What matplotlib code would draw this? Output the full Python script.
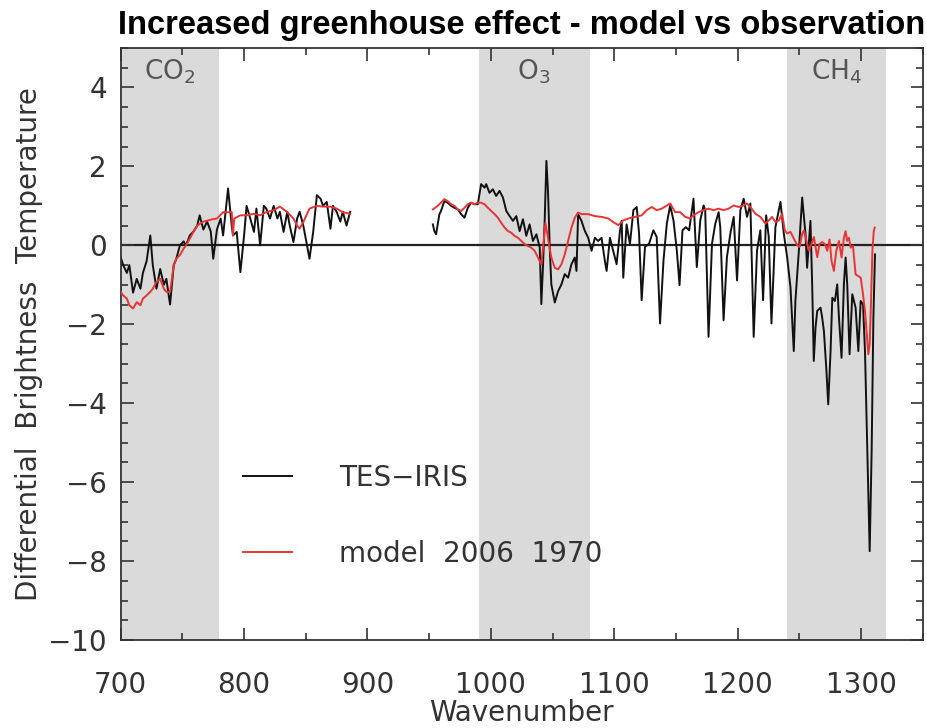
import matplotlib
matplotlib.use("Agg")
import matplotlib.pyplot as plt
from matplotlib.ticker import MultipleLocator

# TES-IRIS observed difference, two spectral windows (gap ~890-950)
tes_wn_a = [700, 702, 705, 707, 710, 713, 716, 718, 721, 724, 726, 729, 732, 735, 737, 740,
            743, 745, 748, 751, 753, 756, 759, 762, 764, 767, 770, 773, 775, 778, 781, 783,
            787, 790, 791, 794, 797, 800, 802, 805, 808, 810, 813, 816, 818, 821, 824, 827,
            829, 832, 835, 837, 840, 843, 845, 848, 851, 853, 856, 859, 862, 864, 867, 870,
            872, 875, 878, 880, 883, 886]
tes_bt_a = [-0.3, -0.5, -0.7, -0.5, -1.2, -0.85, -1.1, -0.7, -0.4, 0.25, -0.5, -1.1, -0.6, -1.0, -0.85, -1.5,
            -0.5, -0.35, 0.0, 0.1, 0.0, 0.25, 0.35, 0.5, 0.76, 0.4, 0.6, 0.35, -0.34, 0.4, 0.68, 0.25,
            1.44, 0.5, 0.25, 0.34, -0.68, 0.25, 1.0, 0.68, 0.34, 0.93, 0.0, 1.0, 0.93, 0.68, 1.0, 0.68,
            0.85, 0.34, 0.85, 0.5, 0.08, 0.68, 0.85, 0.5, 0.0, -0.34, 0.34, 1.27, 1.18, 1.0, 1.1, 0.42,
            1.0, 0.85, 0.6, 0.85, 0.5, 0.85]

tes_wn_b = [953.0, 954.2, 955.6, 956.9, 958.3, 959.6, 962.3, 965.0, 967.8, 970.5, 973.2, 975.9,
            978.6, 981.3, 984.0, 986.7, 989.4, 992.1, 994.9, 996.2, 998.9, 1001.6, 1004.3, 1007.0,
            1009.8, 1012.5, 1015.2, 1017.9, 1020.6, 1023.3, 1026.0, 1028.7, 1031.4, 1034.1, 1036.9,
            1039.6, 1040.9, 1042.3, 1043.6, 1045.0, 1046.3, 1047.7, 1049.0, 1051.8, 1054.5, 1057.2,
            1059.9, 1062.6, 1065.3, 1068.0, 1069.4, 1070.7, 1073.4, 1076.2, 1078.9, 1081.6, 1084.3,
            1087.0, 1089.7, 1092.4, 1093.8, 1096.5, 1099.2, 1101.9, 1104.6, 1106.0, 1107.3, 1110.0,
            1112.7, 1115.5, 1118.2, 1120.1, 1122.2, 1124.9, 1128.2, 1131.7, 1134.4, 1137.1, 1139.9,
            1142.6, 1145.3, 1148.0, 1150.7, 1152.9, 1155.3, 1158.0, 1160.7, 1164.2, 1166.9, 1169.7,
            1172.4, 1173.7, 1176.4, 1179.2, 1181.9, 1184.6, 1185.9, 1188.6, 1191.3, 1194.1, 1196.8,
            1199.5, 1202.2, 1204.9, 1207.6, 1210.3, 1213.0, 1215.7, 1218.4, 1220.6, 1223.1, 1225.2,
            1227.4, 1230.6, 1234.7, 1237.4, 1240.1, 1242.8, 1245.5, 1246.8, 1249.6, 1252.3, 1255.0,
            1256.3, 1259.0, 1260.4, 1261.7, 1263.1, 1264.5, 1267.2, 1268.5, 1269.9, 1271.8, 1273.4,
            1275.3, 1276.7, 1278.8, 1280.7, 1282.1, 1284.2, 1286.1, 1287.5, 1288.8, 1290.7, 1292.9,
            1295.6, 1297.8, 1299.7, 1301.6, 1303.2, 1305.1, 1307.0, 1308.6, 1310.0, 1311.3]
tes_bt_b = [0.53, 0.36, 0.28, 0.53, 0.79, 0.87, 1.12, 1.08, 1.0, 0.95, 0.91, 0.79,
            0.70, 0.95, 1.08, 1.04, 1.04, 1.55, 1.46, 1.55, 1.33, 1.42, 1.25, 1.38,
            1.21, 0.87, 0.74, 0.62, 0.74, 0.36, 0.66, 0.24, 0.53, 0.11, 0.28,
            -0.06, -1.49, -0.48, 0.62, 2.14, 1.38, -0.06, -0.99, -1.45, -1.16, -0.99,
            -0.73, -0.82, -0.48, -0.31, -0.65, 0.79, 0.62, 0.36, 0.19, -0.14, 0.19,
            0.11, 0.19, -0.40, -0.65, 0.19, -0.14, -0.48, 0.36, 0.62, -0.82, 0.53,
            0.03, 0.89, 0.97, 0.30, -1.39, -0.04, 0.04, 0.38, 0.21, -1.98, -0.38,
            0.55, 1.01, 0.63, -0.13, -1.01, 0.38, 0.46, 0.38, 1.18, -0.55, 0.63,
            1.01, 0.89, -2.32, 0.04, 0.55, 0.84, 0.46, -1.90, -0.30, 0.30, 0.72,
            -0.89, 0.89, 1.18, 0.72, 1.06, -2.32, -0.13, 0.38, -1.39, 0.76, 0.21,
            -1.98, 0.46, 1.10, 0.30, -0.30, -1.06, -2.68, -1.41, -0.14, 1.21, 0.28,
            -0.57, 0.62, -0.99, -2.93, -2.09, -1.66, -1.58, -1.83, -2.17, -3.10, -4.03,
            -2.68, -1.33, -1.41, -0.99, -1.83, -2.85, -0.99, -0.31, -0.99, -2.76, -1.24,
            -1.58, -2.68, -1.41, -1.50, -2.68, -5.2, -7.75, -5.2, -1.84, -0.23]

# model 2006 minus 1970
model_wn_a = [700, 702, 705, 707, 710, 713, 716, 718, 721, 724, 726, 729, 732, 735, 737, 740,
              743, 745, 748, 751, 753, 756, 759, 762, 767, 773, 778, 783, 787, 790, 791, 792,
              797, 802, 808, 813, 818, 824, 829, 835, 840, 843, 845, 848, 853, 859, 864, 870,
              875, 880, 886]
model_bt_a = [-1.18, -1.27, -1.35, -1.52, -1.6, -1.44, -1.52, -1.35, -1.27, -1.18, -1.1, -0.93,
              -0.85, -1.1, -1.18, -1.18, -0.5, -0.34, -0.25, -0.08, 0.0, 0.17, 0.34, 0.5, 0.6,
              0.65, 0.68, 0.84, 0.84, 0.84, 0.25, 0.68, 0.76, 0.76, 0.8, 0.76, 0.84, 0.89, 0.98,
              0.84, 0.68, 0.5, 0.42, 0.59, 0.93, 1.0, 0.98, 0.98, 0.93, 0.84, 0.8]

model_wn_b = [953.0, 956.9, 959.6, 962.3, 965.0, 967.8, 970.5, 973.2, 975.9, 978.6, 981.3, 984.0,
              986.7, 989.4, 992.1, 994.9, 997.6, 1000.3, 1003.0, 1005.7, 1008.4, 1011.1, 1013.8,
              1016.5, 1019.2, 1022.0, 1024.7, 1027.4, 1030.1, 1032.8, 1035.5, 1038.2, 1040.9,
              1042.3, 1044.2, 1046.3, 1049.0, 1051.8, 1054.5, 1057.2, 1059.9, 1062.6, 1065.3,
              1068.0, 1070.7, 1073.4, 1078.9, 1084.3, 1089.7, 1095.1, 1099.2, 1103.3, 1107.3,
              1111.4, 1116.8, 1122.2, 1126.3, 1130.4, 1134.4, 1138.5, 1142.6, 1145.3, 1149.3,
              1153.4, 1157.5, 1161.5, 1164.2, 1168.3, 1172.4, 1176.4, 1180.5, 1184.6, 1188.6,
              1192.7, 1196.8, 1200.8, 1204.9, 1207.6, 1210.3, 1214.4, 1218.4, 1222.5, 1225.2,
              1227.9, 1230.6, 1233.4, 1236.1, 1238.2, 1240.1, 1242.8, 1245.5, 1248.3, 1250.2,
              1252.3, 1253.7, 1255.6, 1257.7, 1259.9, 1261.8, 1264.5, 1266.4, 1268.6, 1270.7,
              1272.6, 1274.5, 1276.1, 1278.0, 1279.9, 1282.1, 1284.2, 1286.1, 1287.5, 1288.8,
              1290.2, 1291.6, 1293.5, 1295.6, 1297.8, 1299.7, 1301.6, 1303.2, 1304.6, 1305.9,
              1307.0, 1308.1, 1309.2, 1310.3, 1311.1]
model_bt_b = [0.91, 1.0, 1.08, 1.17, 1.12, 1.04, 1.0, 0.91, 0.87, 0.95, 1.04, 1.08,
              1.04, 1.08, 1.08, 1.04, 0.95, 0.87, 0.79, 0.70, 0.57, 0.45, 0.36,
              0.32, 0.24, 0.19, 0.11, 0.03, -0.02, -0.06, -0.14, -0.31, -0.48,
              -0.06, 0.57, 0.19, -0.31, -0.57, -0.61, -0.48, -0.23, 0.11, 0.45,
              0.70, 0.83, 0.79, 0.79, 0.74, 0.72, 0.68, 0.59, 0.51, 0.63,
              0.68, 0.72, 0.76, 0.89, 0.97, 0.89, 0.93, 1.01, 1.06, 0.84,
              0.84, 0.72, 0.68, 0.76, 0.84, 0.89, 0.93, 0.89, 0.93, 0.89,
              0.93, 1.01, 0.97, 1.01, 1.06, 0.97, 0.80, 0.72, 0.55, 0.63,
              0.72, 0.59, 0.63, 0.80, 0.38, 0.30, 0.34, 0.17, 0.0, -0.04,
              0.30, 0.38, 0.13, -0.13, 0.04, 0.21, -0.30, 0.04, 0.08, 0.03,
              -0.14, 0.15, -0.40, -0.65, -0.14, 0.11, -0.31, 0.19, 0.36, 0.11,
              0.19, -0.06, -0.02, -0.74, -0.78, -0.82, -1.24, -1.66, -2.25, -2.76,
              -2.51, -1.41, -0.14, 0.36, 0.45]

# absorption bands
band_names = ["CO$_2$", "O$_3$", "CH$_4$"]
band_lo = [700, 990, 1240]
band_hi = [780, 1080, 1320]

plt.rcParams['mathtext.default'] = 'regular'
plt.rcParams['font.family'] = ['DejaVu Sans']

fig = plt.figure(figsize=(9.27, 7.28), dpi=100)
ax = fig.add_axes([0.1302, 0.1209, 0.8652, 0.8132])

txt = '#333333'
for name, lo, hi in zip(band_names, band_lo, band_hi):
    ax.axvspan(lo, hi, color='#dadada', lw=0, zorder=0)
    ax.text((lo + hi) / 2, 4.4, name, ha='center', va='center', fontsize=19, color='#555555')

ax.axhline(0, color='#222222', lw=1.6, zorder=1)

ax.plot(tes_wn_a, tes_bt_a, color='#111111', lw=1.4, zorder=2, label='TES\u2212IRIS')
ax.plot(tes_wn_b, tes_bt_b, color='#111111', lw=1.4, zorder=2)
ax.plot(model_wn_a, model_bt_a, color='#ea3434', lw=1.4, zorder=3, label='model  2006  1970')
ax.plot(model_wn_b, model_bt_b, color='#ea3434', lw=1.4, zorder=3)

ax.set_xlim(700, 1350)
ax.set_ylim(-10, 5)
ax.xaxis.set_major_locator(MultipleLocator(100))
ax.xaxis.set_minor_locator(MultipleLocator(50))
ax.yaxis.set_major_locator(MultipleLocator(2))
ax.yaxis.set_minor_locator(MultipleLocator(0.5))
ax.tick_params(which='both', direction='in', top=True, right=True, color='#333333', width=1.2,
               labelsize=20, labelcolor=txt)
ax.tick_params(which='major', length=9)
ax.tick_params(which='minor', length=5)
ax.tick_params(axis='x', pad=22)
ax.tick_params(axis='y', pad=10)
for s in ax.spines.values():
    s.set_color('#333333')
    s.set_linewidth(1.3)

ax.set_xlabel('Wavenumber', fontsize=20, color=txt, labelpad=0)
ax.set_ylabel('Differential  Brightness  Temperature', fontsize=20, color=txt, labelpad=4)
ax.set_title('Increased greenhouse effect - model vs observation', fontsize=23.5, fontweight='bold',
             family=['Liberation Sans', 'DejaVu Sans'], pad=10)

ax.legend(loc='upper left', bbox_to_anchor=(0.1525, 0.298), frameon=False, fontsize=20,
          labelcolor=txt, handlelength=1.75, handletextpad=1.7, labelspacing=1.75,
          borderpad=0, borderaxespad=0)

fig.savefig('out.png', dpi=100)
